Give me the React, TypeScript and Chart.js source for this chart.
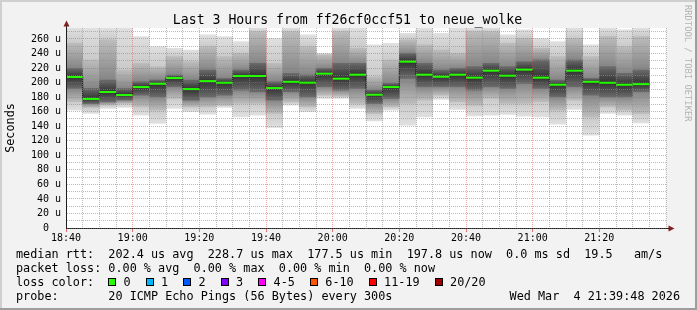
import React, { useEffect, useRef } from 'react';
import { Chart, registerables } from 'chart.js';

Chart.register(...registerables);

const MONO = '"DejaVu Sans Mono", "Liberation Mono", monospace';

// ---------- text ----------
const TITLE = 'Last 3 Hours from ff26cf0ccf51 to neue_wolke';
const Y_TITLE = 'Seconds';
const WATERMARK = 'RRDTOOL / TOBI OETIKER';
const statsLine1 = 'median rtt:  202.4 us avg  228.7 us max  177.5 us min  197.8 us now  0.0 ms sd  19.5   am/s';
const statsLine2 = 'packet loss: 0.00 % avg  0.00 % max  0.00 % min  0.00 % now';
const lossTitle = 'loss color:';
const lossLabels = ['0', '1', '2', '3', '4-5', '6-10', '11-19', '20/20'];
const lossColors = ['#26ff00', '#00b8ff', '#0059ff', '#7e00ff', '#ff00ff', '#ff5500', '#ff0000', '#a10000'];
const probeLine = 'probe:       20 ICMP Echo Pings (56 Bytes) every 300s';
const dateText = 'Wed Mar  4 21:39:48 2026';

// ---------- axes ----------
const X_START = '18:40';
const X_END = '21:40';
const STEP_MIN = 5;
const xTickLabels = ['18:40', '19:00', '19:20', '19:40', '20:00', '20:20', '20:40', '21:00', '21:20'];
const Y_MIN = 0;
const Y_MAX = 275;
const yTickValues = [0, 20, 40, 60, 80, 100, 120, 140, 160, 180, 200, 220, 240, 260];

// ---------- data (microseconds) ----------
const slotStart = [
  '18:40', '18:45', '18:50', '18:55', '19:00', '19:05', '19:10', '19:15', '19:20', '19:25',
  '19:30', '19:35', '19:40', '19:45', '19:50', '19:55', '20:00', '20:05', '20:10', '20:15',
  '20:20', '20:25', '20:30', '20:35', '20:40', '20:45', '20:50', '20:55', '21:00', '21:05',
  '21:10', '21:15', '21:20', '21:25', '21:30',
];
const medianRtt = [
  207.6, 177.5, 187.0, 182.8, 193.8, 198.3, 206.2, 191.0, 202.0, 199.7,
  209.0, 209.0, 192.4, 201.0, 199.8, 212.2, 205.3, 210.8, 183.2, 193.8,
  228.7, 210.8, 208.0, 210.8, 206.7, 216.3, 209.4, 217.7, 206.7, 197.0,
  216.3, 201.0, 199.7, 197.0, 197.8,
];
const pingMax = [
  275, 275, 275, 275, 263.2, 249.4, 247.1, 244.8, 265.5, 263.2,
  256.3, 275, 260.9, 275, 265.5, 240.2, 275, 275, 251.7, 254.0,
  267.8, 275, 267.8, 275, 275, 275, 265.5, 272.4, 260.9, 256.3,
  275, 251.7, 275, 272.4, 275,
];
const midHigh = [
  254.0, 231.0, 258.6, 217.2, 226.4, 221.8, 235.6, 228.7, 249.4, 235.6,
  240.2, 270.0, 226.4, 270.0, 249.4, 238.0, 270.0, 247.1, 208.0, 231.0,
  258.6, 251.7, 244.8, 240.2, 270.0, 270.0, 254.0, 260.9, 247.1, 235.6,
  260.9, 235.6, 263.2, 249.4, 263.2,
];
const coreHigh = [
  219.5, 192.0, 203.4, 191.9, 201.1, 203.4, 210.3, 203.4, 217.2, 205.7,
  217.2, 226.4, 201.1, 212.6, 210.3, 219.5, 226.4, 226.4, 189.6, 198.8,
  240.2, 226.4, 217.2, 219.5, 221.8, 226.4, 221.8, 228.7, 231.0, 203.4,
  231.0, 205.7, 221.8, 212.6, 217.2,
];
const coreLow = [
  191.9, 171.0, 173.5, 176.0, 182.7, 180.4, 194.2, 175.8, 180.4, 182.7,
  189.6, 187.3, 175.8, 187.3, 180.4, 194.2, 189.6, 191.9, 171.2, 178.1,
  205.7, 194.2, 194.2, 194.2, 189.6, 194.2, 191.9, 198.8, 191.9, 180.4,
  194.2, 182.7, 180.4, 180.4, 187.3,
];
const midLow = [
  173.6, 165.7, 169.0, 171.2, 166.7, 162.1, 178.1, 166.7, 166.7, 169.0,
  171.2, 171.2, 157.5, 173.5, 166.7, 182.7, 181.4, 171.2, 157.5, 166.7,
  171.2, 175.8, 182.7, 173.6, 169.0, 178.1, 171.2, 171.2, 173.6, 162.1,
  175.8, 152.9, 166.7, 162.1, 157.5,
];
const pingMin = [
  162.1, 157.5, 164.3, 165.7, 155.2, 143.7, 164.3, 159.8, 156.5, 165.7,
  152.9, 155.2, 138.1, 169.0, 159.8, 178.1, 178.1, 164.3, 147.3, 162.1,
  141.4, 152.9, 176.8, 163.0, 154.2, 155.2, 156.1, 153.8, 152.9, 142.7,
  163.0, 127.6, 157.5, 155.2, 144.6,
];

// ---------- helpers ----------
const toMin = (s: string) => {
  const [h, m] = s.split(':').map(Number);
  return h * 60 + m;
};
const fmtMin = (v: number) => `${Math.floor(v / 60)}:${String(v % 60).padStart(2, '0')}`;

const GRID_MINOR = 'rgba(143,143,143,0.6)';
const GRID_MAJOR = 'rgba(222,79,79,0.5)';
const AXIS = '#1f1f1f';
const ARROW = '#801f1f';

// vertical shading of one smoke band: lighter at its outer edges, darker toward the inner band
const bandFill =
  (lo: number[], hi: number[], innerHi: number[], innerLo: number[], edge: string, inner: string) =>
  (c: any) => {
    if (c.type !== 'data') return edge;
    const chart = c.chart;
    const y = chart.scales && chart.scales.y;
    if (!y || !chart.chartArea) return edge;
    const i = c.dataIndex;
    const pt = y.getPixelForValue(hi[i]);
    const pb = y.getPixelForValue(lo[i]);
    if (!(pb - pt > 0.5)) return edge;
    const f = (v: number) => Math.min(1, Math.max(0, (y.getPixelForValue(v) - pt) / (pb - pt)));
    const a = f(innerHi[i]);
    const b = Math.max(a, f(innerLo[i]));
    const g = chart.ctx.createLinearGradient(0, pt, 0, pb);
    g.addColorStop(0, edge);
    g.addColorStop(a, inner);
    g.addColorStop(b, inner);
    g.addColorStop(1, edge);
    return g;
  };

const framePlugin = {
  id: 'rrdFrame',
  beforeDraw(chart: any) {
    const { ctx, width, height, chartArea: a } = chart;
    ctx.save();
    ctx.fillStyle = '#f2f2f2';
    ctx.fillRect(0, 0, width, height);
    ctx.fillStyle = '#cfcfcf';
    ctx.fillRect(0, 0, width, 2);
    ctx.fillRect(0, 0, 2, height);
    ctx.fillStyle = '#9e9e9e';
    ctx.fillRect(0, height - 2, width, 2);
    ctx.fillRect(width - 2, 0, 2, height);
    ctx.fillStyle = '#ffffff';
    ctx.fillRect(a.left, a.top, a.right - a.left, a.bottom - a.top);
    ctx.restore();
  },
  afterDraw(chart: any) {
    const { ctx, width, chartArea: a } = chart;
    ctx.save();
    const ax = Math.round(a.left) + 0.5;
    const ay = Math.round(a.bottom) + 0.5;
    ctx.strokeStyle = AXIS;
    ctx.lineWidth = 1;
    ctx.beginPath();
    ctx.moveTo(ax, a.top);
    ctx.lineTo(ax, a.top - 3);
    ctx.moveTo(a.right, ay);
    ctx.lineTo(a.right + 3, ay);
    ctx.stroke();
    ctx.fillStyle = ARROW;
    ctx.beginPath();
    ctx.moveTo(ax, a.top - 7.5);
    ctx.lineTo(ax - 3, a.top - 1.5);
    ctx.lineTo(ax + 3, a.top - 1.5);
    ctx.closePath();
    ctx.fill();
    ctx.beginPath();
    ctx.moveTo(a.right + 8.5, ay);
    ctx.lineTo(a.right + 2.5, ay - 3);
    ctx.lineTo(a.right + 2.5, ay + 3);
    ctx.closePath();
    ctx.fill();

    // title
    ctx.fillStyle = '#000';
    ctx.textBaseline = 'alphabetic';
    ctx.textAlign = 'center';
    ctx.font = `13.2px ${MONO}`;
    ctx.fillText(TITLE, width / 2 - 1, 24);

    // watermark
    ctx.save();
    ctx.translate(684.5, 5);
    ctx.rotate(Math.PI / 2);
    ctx.textAlign = 'left';
    ctx.textBaseline = 'alphabetic';
    ctx.font = `8.8px ${MONO}`;
    ctx.fillStyle = '#b4b4b4';
    ctx.fillText(WATERMARK, 0, 0);
    ctx.restore();

    // legend rows
    ctx.font = `11.8px ${MONO}`;
    ctx.textAlign = 'left';
    ctx.fillStyle = '#000';
    const lx = 16;
    ctx.fillText(statsLine1, lx, 258);
    ctx.fillText(statsLine2, lx, 272);
    ctx.fillText(lossTitle, lx, 286);
    ctx.fillText(probeLine, lx, 300);
    ctx.textAlign = 'right';
    ctx.fillText(dateText, 680, 300);
    ctx.textAlign = 'left';

    const cw = ctx.measureText('0').width;
    let bx = lx + 13 * cw;
    lossLabels.forEach((lab, i) => {
      const x0 = Math.round(bx);
      ctx.fillStyle = '#000';
      ctx.fillRect(x0, 278, 8, 8);
      ctx.fillStyle = lossColors[i];
      ctx.fillRect(x0 + 1, 279, 6, 6);
      ctx.fillStyle = '#000';
      const tx = bx + 2 * cw + 1;
      ctx.fillText(lab, tx, 286);
      bx = tx + ctx.measureText(lab).width + 2 * cw + 1;
    });
    ctx.restore();
  },
};

export default function App() {
  const ref = useRef<HTMLCanvasElement | null>(null);

  useEffect(() => {
    if (!ref.current) return;
    const xs = slotStart.map((s) => toMin(s) + STEP_MIN / 2);
    const band = (lo: number[], hi: number[]) => xs.map((x, i) => ({ x, y: [lo[i], hi[i]] }));
    const med = xs.map((x, i) => ({ x, y: medianRtt[i] }));
    const barCommon = {
      type: 'bar' as const,
      grouped: false,
      barPercentage: 1,
      categoryPercentage: 1,
      borderWidth: 0,
    };

    const chart = new Chart(ref.current, {
      type: 'bar',
      data: {
        datasets: [
          {
            type: 'line',
            label: 'median',
            data: med,
            showLine: false,
            pointStyle: 'line',
            pointRadius: 8.33,
            pointBorderWidth: 2,
            pointBorderColor: lossColors[0],
            pointBackgroundColor: lossColors[0],
            order: -2,
          } as any,
          {
            type: 'line',
            label: 'median step',
            data: med,
            stepped: 'middle',
            borderColor: '#1c1c1c',
            borderWidth: 1,
            pointRadius: 0,
            order: -1,
          } as any,
          {
            ...barCommon,
            label: 'core',
            data: band(coreLow, coreHigh),
            backgroundColor: bandFill(coreLow, coreHigh, medianRtt, medianRtt, '#6a6a6a', '#323232'),
            order: 1,
          } as any,
          {
            ...barCommon,
            label: 'mid',
            data: band(midLow, midHigh),
            backgroundColor: bandFill(midLow, midHigh, coreHigh, coreLow, '#bcbcbc', '#858585'),
            order: 2,
          } as any,
          {
            ...barCommon,
            label: 'outer',
            data: band(pingMin, pingMax),
            backgroundColor: bandFill(pingMin, pingMax, midHigh, midLow, '#e0e0e0', '#cacaca'),
            order: 3,
          } as any,
        ],
      },
      options: {
        animation: false,
        responsive: false,
        devicePixelRatio: 1,
        events: [],
        layout: { padding: { top: 28, right: 31, bottom: 0, left: 0 } },
        plugins: {
          legend: { display: false },
          tooltip: { enabled: false },
          title: { display: false },
        },
        scales: {
          x: {
            type: 'linear',
            min: toMin(X_START),
            max: toMin(X_END),
            offset: false,
            afterFit: (s: any) => {
              s.height = 82;
            },
            ticks: {
              stepSize: STEP_MIN,
              autoSkip: false,
              maxRotation: 0,
              minRotation: 0,
              padding: 1,
              color: '#000',
              font: { family: MONO, size: 10, lineHeight: 1 },
              callback: (v: any) => {
                const lab = fmtMin(Number(v));
                return xTickLabels.includes(lab) ? lab : '';
              },
            },
            grid: {
              offset: false,
              z: 1,
              drawTicks: true,
              tickLength: 4,
              lineWidth: 1,
              color: (c: any) => (xTickLabels.includes(fmtMin(c.tick.value)) ? GRID_MAJOR : GRID_MINOR),
              tickColor: (c: any) =>
                xTickLabels.includes(fmtMin(c.tick.value)) ? 'rgba(222,79,79,0.8)' : 'rgba(0,0,0,0)',
            },
            border: { display: true, color: AXIS, width: 1, dash: [1, 1], z: 1 },
          } as any,
          y: {
            type: 'linear',
            min: Y_MIN,
            max: Y_MAX,
            afterFit: (s: any) => {
              s.width = 66;
            },
            title: {
              display: true,
              text: Y_TITLE,
              color: '#000',
              font: { family: MONO, size: 11.8 },
              padding: { top: 4, bottom: 0 },
            },
            ticks: {
              stepSize: 10,
              autoSkip: false,
              includeBounds: false,
              padding: 5,
              color: '#000',
              font: { family: MONO, size: 10, lineHeight: 1 },
              callback: (v: any) => {
                const n = Number(v);
                if (!yTickValues.includes(n)) return '';
                return n === 0 ? '0  ' : `${n} u`;
              },
            },
            grid: {
              z: 1,
              drawTicks: false,
              lineWidth: 1,
              color: (c: any) => (c.tick.value % 20 === 0 ? GRID_MAJOR : GRID_MINOR),
            },
            border: { display: true, color: AXIS, width: 1, dash: [1, 1], z: 1 },
          } as any,
        },
      },
      plugins: [framePlugin],
    });
    return () => chart.destroy();
  }, []);

  return (
    <div style={{ position: 'absolute', left: 0, top: 0, width: 697, height: 310 }}>
      <canvas ref={ref} width={697} height={310} style={{ display: 'block', width: 697, height: 310 }} />
    </div>
  );
}
